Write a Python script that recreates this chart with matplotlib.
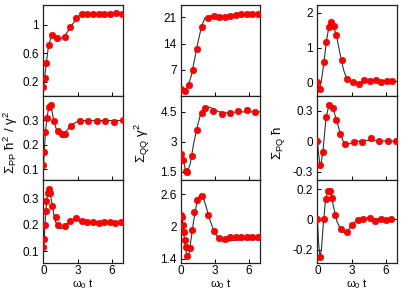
import matplotlib
matplotlib.use('Agg')
import matplotlib.pyplot as plt
from matplotlib.ticker import FormatStrFormatter

plt.rcParams['font.family'] = ['Liberation Sans', 'DejaVu Sans']
plt.rcParams['mathtext.fontset'] = 'custom'
plt.rcParams['mathtext.rm'] = 'Liberation Sans'
plt.rcParams['mathtext.it'] = 'Liberation Sans'
plt.rcParams['font.size'] = 8.5

# ---- column 1 : Sigma_PP ----
t_pp1 = [0, 0.11, 0.26, 0.47, 0.79, 1.2, 1.91, 2.38, 2.9, 3.38, 3.85, 4.38, 4.88, 5.35, 5.85, 6.35, 6.88]
y_pp1 = [0.12, 0.25, 0.46, 0.72, 0.86, 0.82, 0.83, 0.97, 1.09, 1.15, 1.16, 1.16, 1.15, 1.16, 1.16, 1.17, 1.16]
lt_pp1 = [0, 0.1, 0.25, 0.45, 0.7, 0.9, 1.2, 1.5, 1.9, 2.4, 2.9, 3.3, 3.7, 4.5, 7]
ly_pp1 = [0.1, 0.24, 0.45, 0.7, 0.84, 0.84, 0.8, 0.8, 0.85, 0.97, 1.09, 1.15, 1.165, 1.165, 1.16]

t_pp2 = [0, 0.08, 0.17, 0.32, 0.5, 0.65, 0.91, 1.3, 1.62, 1.94, 2.41, 3.2, 3.94, 4.67, 5.44, 6.2, 6.97]
y_pp2 = [0.116, 0.172, 0.251, 0.309, 0.354, 0.362, 0.296, 0.254, 0.242, 0.245, 0.278, 0.298, 0.297, 0.295, 0.297, 0.294, 0.299]
lt_pp2 = [0, 0.1, 0.2, 0.35, 0.5, 0.6, 0.75, 0.95, 1.2, 1.5, 1.8, 2.1, 2.5, 3.0, 3.5, 7]
ly_pp2 = [0.11, 0.19, 0.26, 0.32, 0.355, 0.36, 0.34, 0.29, 0.255, 0.24, 0.245, 0.26, 0.28, 0.295, 0.298, 0.298]

t_pp3 = [0, 0.06, 0.11, 0.2, 0.26, 0.38, 0.47, 0.62, 0.79, 1.09, 1.29, 1.91, 2.38, 2.88, 3.35, 3.85, 4.35, 4.85, 5.32, 5.82, 6.32, 6.85]
y_pp3 = [0.116, 0.145, 0.199, 0.251, 0.292, 0.32, 0.335, 0.323, 0.27, 0.23, 0.199, 0.194, 0.215, 0.225, 0.216, 0.212, 0.211, 0.208, 0.211, 0.211, 0.208, 0.212]
lt_pp3 = [0, 0.1, 0.2, 0.3, 0.45, 0.6, 0.8, 1.0, 1.3, 1.6, 2.0, 2.4, 2.8, 3.3, 4, 5, 7]
ly_pp3 = [0.11, 0.16, 0.24, 0.3, 0.33, 0.32, 0.27, 0.22, 0.19, 0.185, 0.2, 0.215, 0.22, 0.215, 0.207, 0.205, 0.205]

# ---- column 2 : Sigma_QQ ----
t_qq1 = [0, 0.32, 0.67, 1.05, 1.4, 1.89, 2.36, 2.88, 3.38, 3.87, 4.37, 4.86, 5.33, 5.85, 6.35, 6.84]
y_qq1 = [1.9, 1.4, 3.0, 6.9, 12.6, 18.3, 20.7, 21.35, 21.2, 21.2, 21.35, 21.6, 21.8, 21.9, 21.97, 21.97]
lt_qq1 = [0, 0.3, 0.6, 0.9, 1.2, 1.5, 1.8, 2.1, 2.4, 2.8, 3.5, 5, 7]
ly_qq1 = [1.9, 1.5, 2.5, 5.5, 10, 14.5, 18.5, 20.8, 21.3, 21.4, 21.4, 21.5, 21.6]

t_qq2 = [0, 0.17, 0.38, 0.52, 0.96, 1.4, 1.81, 2.13, 2.86, 3.61, 4.34, 5.1, 5.83, 6.55]
y_qq2 = [2.4, 2.1, 1.52, 1.47, 2.27, 3.57, 4.45, 4.7, 4.57, 4.42, 4.45, 4.53, 4.58, 4.5]
lt_qq2 = [0, 0.2, 0.4, 0.55, 0.8, 1.1, 1.4, 1.7, 2.0, 2.3, 2.6, 3.0, 3.5, 4.0, 5, 7]
ly_qq2 = [2.4, 2.0, 1.55, 1.5, 1.9, 2.9, 3.7, 4.35, 4.65, 4.75, 4.72, 4.6, 4.48, 4.45, 4.5, 4.5]

t_qq3 = [0, 0.09, 0.15, 0.23, 0.29, 0.38, 0.55, 0.76, 0.96, 1.17, 1.37, 1.89, 2.36, 2.88, 3.38, 3.87, 4.37, 4.86, 5.33, 5.85, 6.35, 6.84]
y_qq3 = [2.21, 2.17, 2.03, 1.89, 1.74, 1.61, 1.44, 1.59, 1.93, 2.26, 2.5, 2.56, 2.22, 1.91, 1.78, 1.76, 1.8, 1.81, 1.81, 1.81, 1.81, 1.81]
lt_qq3 = [0, 0.1, 0.2, 0.35, 0.5, 0.7, 0.9, 1.1, 1.3, 1.5, 1.7, 1.9, 2.2, 2.5, 2.9, 3.3, 3.7, 4.1, 4.6, 5.5, 7]
ly_qq3 = [2.2, 2.1, 1.9, 1.65, 1.45, 1.5, 1.8, 2.1, 2.35, 2.52, 2.6, 2.57, 2.38, 2.15, 1.92, 1.78, 1.72, 1.72, 1.74, 1.75, 1.75]

# ---- column 3 : Sigma_PQ ----
t_pq1 = [0, 0.22, 0.57, 0.78, 0.98, 1.22, 1.45, 1.66, 2.12, 2.59, 3.11, 3.61, 4.1, 4.6, 5.1, 5.59, 6.09, 6.58]
y_pq1 = [0, -0.19, 0.59, 1.17, 1.58, 1.74, 1.61, 1.36, 0.64, 0.1, 0.01, -0.05, 0.07, 0.04, 0.06, 0.01, 0.02, 0.02]
lt_pq1 = [0, 0.2, 0.4, 0.6, 0.8, 1.0, 1.2, 1.4, 1.7, 2.0, 2.3, 2.6, 3.0, 3.5, 4, 5, 7]
ly_pq1 = [0, -0.2, 0.15, 0.65, 1.2, 1.58, 1.72, 1.65, 1.3, 0.8, 0.35, 0.08, 0.0, -0.03, 0.02, 0.03, 0.02]

t_pq2 = [0, 0.22, 0.45, 0.74, 1.03, 1.38, 1.67, 2.02, 2.43, 3.19, 3.92, 4.67, 5.4, 6.16, 6.88]
y_pq2 = [0.006, -0.23, -0.1, 0.234, 0.356, 0.324, 0.204, 0.071, -0.03, -0.007, -0.004, 0.032, 0.003, 0.003, 0.003]
lt_pq2 = [0, 0.1, 0.22, 0.35, 0.5, 0.75, 1.0, 1.2, 1.4, 1.7, 2.0, 2.3, 2.6, 3.0, 3.5, 4.2, 5, 7]
ly_pq2 = [0, -0.12, -0.23, -0.2, -0.08, 0.22, 0.35, 0.35, 0.31, 0.2, 0.08, -0.01, -0.03, -0.02, 0.0, 0.01, 0.005, 0.0]

t_pq3 = [0, 0.22, 0.57, 0.74, 0.92, 1.12, 1.3, 1.56, 2.08, 2.57, 3.07, 3.53, 4.03, 4.58, 5.05, 5.54, 6.03, 6.5]
y_pq3 = [0.003, -0.248, 0.003, 0.139, 0.191, 0.191, 0.143, 0.029, -0.064, -0.083, -0.033, 0.0, 0.007, 0.013, -0.007, 0.007, 0.0, 0.002]
lt_pq3 = [0, 0.1, 0.22, 0.35, 0.5, 0.7, 0.9, 1.05, 1.2, 1.4, 1.7, 2.0, 2.3, 2.6, 3.0, 3.5, 4, 5, 7]
ly_pq3 = [0, -0.15, -0.25, -0.2, -0.05, 0.12, 0.19, 0.2, 0.17, 0.09, -0.01, -0.06, -0.085, -0.08, -0.04, 0.0, 0.01, 0.005, 0.0]

x_ticks = [0, 3, 6]

fig = plt.figure(figsize=(4.15, 2.91), dpi=100)

col_left = [0.1036, 0.436, 0.764]
col_width = [0.193, 0.19, 0.193]
row_bottom = [0.6702, 0.3826, 0.0949]
row_height = [0.3127, 0.2876, 0.2877]

panels = [
    [(t_pp1, y_pp1, lt_pp1, ly_pp1, (0.0, 1.28), [0.2, 0.6, 1]),
     (t_pp2, y_pp2, lt_pp2, ly_pp2, (0.058, 0.398), [0.1, 0.2, 0.3]),
     (t_pp3, y_pp3, lt_pp3, ly_pp3, (0.053, 0.372), [0.1, 0.2, 0.3])],
    [(t_qq1, y_qq1, lt_qq1, ly_qq1, (0.0, 24.3), [7, 14, 21]),
     (t_qq2, y_qq2, lt_qq2, ly_qq2, (1.1, 5.3), [1.5, 3, 4.5]),
     (t_qq3, y_qq3, lt_qq3, ly_qq3, (1.31, 2.87), [1.4, 2, 2.6])],
    [(t_pq1, y_pq1, lt_pq1, ly_pq1, (-0.4, 2.23), [0, 1, 2]),
     (t_pq2, y_pq2, lt_pq2, ly_pq2, (-0.375, 0.443), [-0.3, 0, 0.3]),
     (t_pq3, y_pq3, lt_pq3, ly_pq3, (-0.29, 0.264), [-0.2, 0, 0.2])],
]

for c in range(3):
    for r in range(3):
        tp, yp, lt, ly, ylim, yticks = panels[c][r]
        ax = fig.add_axes([col_left[c], row_bottom[r], col_width[c], row_height[r]])
        ax.plot(lt, ly, color='#333333', lw=0.8, zorder=2)
        ax.plot(tp, yp, 'o', color='red', markersize=4.7, markeredgecolor='#dd0000',
                markeredgewidth=0.4, zorder=3)
        ax.set_xlim(-0.03, 7.0)
        ax.set_ylim(*ylim)
        ax.set_xticks(x_ticks)
        ax.set_yticks(yticks)
        ax.yaxis.set_major_formatter(FormatStrFormatter('%g'))
        ax.tick_params(direction='in', length=3, width=0.7, pad=3, labelsize=8.5)
        ax.tick_params(axis='x', pad=1.5)
        for s in ax.spines.values():
            s.set_linewidth(0.9)
            s.set_color('#222222')
        if r < 2:
            ax.tick_params(labelbottom=False)

fig.text(0.026, 0.51, r'$\Sigma_{\rm PP}\ \hbar^2\ /\ \gamma^2$', rotation=90,
         ha='center', va='center', fontsize=9.5)
fig.text(0.342, 0.51, r'$\Sigma_{\rm QQ}\ \gamma^2$', rotation=90,
         ha='center', va='center', fontsize=9.5)
fig.text(0.67, 0.51, r'$\Sigma_{\rm PQ}\ \hbar$', rotation=90,
         ha='center', va='center', fontsize=9.5)

for c in range(3):
    fig.text(col_left[c] + col_width[c] / 2, 0.0, r'$\omega_0$ t', ha='center', va='bottom',
             fontsize=8)

fig.savefig('out.png', dpi=100)
